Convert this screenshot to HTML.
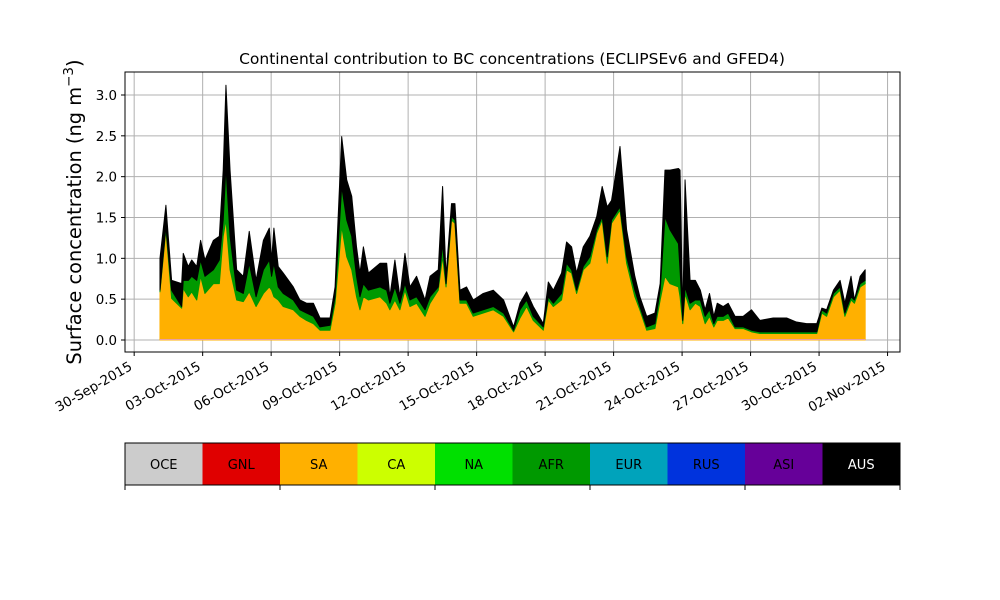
<!DOCTYPE html>
<html><head><meta charset="utf-8"><style>body{margin:0;background:#fff}svg{display:block;font-family:"DejaVu Sans","Liberation Sans",sans-serif}</style></head>
<body>
<svg id="c" width="1000" height="600"></svg>
<script>
const times=[0.13,0.39,0.64,1.08,1.15,1.37,1.52,1.74,1.91,2.1,2.47,2.73,2.9,3.02,3.2,3.49,3.78,4.04,4.34,4.66,4.92,5.02,5.12,5.31,5.53,5.97,6.26,6.55,6.85,7.14,7.58,7.8,8.09,8.31,8.53,8.74,8.89,9.04,9.26,9.77,10.06,10.2,10.42,10.64,10.86,11.08,11.37,11.74,11.96,12.32,12.51,12.66,12.9,13.05,13.27,13.56,13.85,14.29,14.73,15.18,15.62,15.9,16.19,16.48,16.92,17.14,17.36,17.72,17.94,18.16,18.38,18.67,18.96,19.26,19.5,19.72,19.91,20.28,20.57,20.93,21.15,21.45,21.81,22.04,22.25,22.47,22.84,22.91,23.03,23.13,23.35,23.58,23.8,24.01,24.2,24.39,24.54,24.8,25.02,25.32,25.68,26.04,26.41,26.99,27.58,28.01,28.45,28.9,29.12,29.33,29.63,29.92,30.13,30.4,30.55,30.8,31.02];
const saVals=[.59,1.35,.51,.39,.63,.53,.59,.49,.78,.57,.69,.69,1.27,1.47,.86,.49,.47,.59,.41,.57,.65,.61,.53,.49,.41,.37,.29,.24,.20,.12,.12,.45,1.39,1.02,.86,.53,.37,.53,.49,.53,.45,.37,.49,.37,.61,.41,.45,.29,.45,.61,1.02,.65,1.47,1.43,.45,.45,.29,.33,.37,.29,.10,.27,.41,.24,.12,.49,.41,.49,.86,.82,.57,.86,.94,1.31,1.47,.94,1.43,1.59,.94,.53,.37,.12,.14,.49,.78,.69,.65,.53,.20,.57,.37,.45,.41,.20,.29,.16,.24,.24,.27,.14,.14,.10,.08,.08,.08,.08,.08,.08,.33,.29,.53,.61,.29,.49,.45,.65,.69];
const afrVals=[.02,.04,.10,.02,.10,.20,.19,.24,.20,.21,.17,.29,.20,.65,.41,.12,.10,.35,.12,.29,.33,.17,.41,.16,.16,.12,.08,.09,.09,.04,.06,.08,.49,.45,.41,.25,.16,.16,.12,.12,.16,.08,.16,.08,.08,.08,.08,.08,.08,.04,.16,.04,.04,.04,.04,.04,.04,.04,.04,.04,.02,.10,.08,.05,.04,.04,.04,.08,.08,.04,.04,.04,.08,.04,.04,.08,.04,.04,.08,.08,.04,.04,.06,.12,.73,.66,.53,.33,.04,.08,.08,.04,.08,.09,.08,.04,.05,.05,.06,.02,.02,.02,.02,.02,.02,.02,.02,.02,.04,.04,.04,.04,.04,.04,.04,.04,.04];
const ausVals=[.39,.26,.12,.28,.33,.17,.20,.17,.24,.20,.36,.29,.61,1.0,.81,.25,.21,.39,.20,.36,.39,.20,.43,.25,.25,.16,.12,.12,.16,.11,.09,.12,.61,.49,.49,.36,.29,.45,.21,.29,.33,.08,.33,.08,.37,.16,.25,.12,.25,.21,.70,.09,.16,.20,.12,.16,.16,.20,.20,.16,.04,.08,.10,.12,.04,.18,.16,.25,.26,.28,.21,.24,.25,.16,.37,.61,.24,.74,.33,.17,.12,.13,.13,.08,.57,.73,.92,1.22,.05,1.31,.28,.24,.12,.08,.20,.09,.16,.12,.12,.13,.13,.25,.14,.17,.17,.12,.10,.10,.02,.04,.04,.08,.12,.25,.00,.09,.13];
const yTicks=[0,0.5,1,1.5,2,2.5,3];
const xTickLabels=["30-Sep-2015","03-Oct-2015","06-Oct-2015","09-Oct-2015","12-Oct-2015","15-Oct-2015","18-Oct-2015","21-Oct-2015","24-Oct-2015","27-Oct-2015","30-Oct-2015","02-Nov-2015"];
const xTickDays=[-1,2,5,8,11,14,17,20,23,26,29,32];
const regions=["OCE","GNL","SA","CA","NA","AFR","EUR","RUS","ASI","AUS"];
const regionColors=["#cccccc","#e00000","#ffb000","#ccff00","#00e000","#009900","#00a3bb","#0033dd","#660099","#000000"];

const NS="http://www.w3.org/2000/svg",svg=document.getElementById('c');
function el(t,a,p){const e=document.createElementNS(NS,t);for(const k in a)e.setAttribute(k,a[k]);(p||svg).appendChild(e);return e;}
const X0=125,X1=900,Y0=72,Y1=352;
const xs=t=>157+22.83*t, ys=v=>340-81.67*v;
let g;
for(const d of xTickDays){g=el('line',{x1:xs(d),x2:xs(d),y1:Y0,y2:Y1,stroke:'#b0b0b0','stroke-width':1});

}
for(const v of yTicks){g=el('line',{x1:X0,x2:X1,y1:ys(v),y2:ys(v),stroke:'#b0b0b0','stroke-width':1});

}
const n=times.length;
function area(lo,hi,color,name){let d='M'+xs(times[0])+','+ys(hi[0]);for(let i=1;i<n;i++)d+='L'+xs(times[i])+','+ys(hi[i]);for(let i=n-1;i>=0;i--)d+='L'+xs(times[i])+','+ys(lo[i]);d+='Z';
const p=el('path',{d:d,fill:color,stroke:color,'stroke-width':1,'stroke-linejoin':'round'});

}
const z=times.map(()=>0),c1=saVals.slice(),c2=saVals.map((v,i)=>v+afrVals[i]),c3=c2.map((v,i)=>v+ausVals[i]);
area(z,c1,'#ffb000','sa-area');
area(c1,c2,'#009900','afr-area');
area(c2,c3,'#000000','aus-area');
g=el('line',{x1:xs(times[0]),x2:xs(times[n-1]),y1:ys(0)-0.5,y2:ys(0)-0.5,stroke:'#e8a0a0','stroke-width':1});


g=el('rect',{x:X0,y:Y0,width:X1-X0,height:Y1-Y0,fill:'none',stroke:'#000','stroke-width':1});


for(const v of yTicks){el('line',{x1:X0-4,x2:X0,y1:ys(v),y2:ys(v),stroke:'#000'});
g=el('text',{x:X0-8,y:ys(v)+5,'text-anchor':'end','font-size':13.4});g.textContent=v.toFixed(1);

}
xTickDays.forEach((d,i)=>{el('line',{x1:xs(d),x2:xs(d),y1:Y1,y2:Y1+4,stroke:'#000'});
const tx=xs(d)-1,ty=Y1+17;
g=el('text',{x:tx,y:ty,'text-anchor':'end','font-size':13.4,transform:`rotate(-30 ${tx} ${ty})`});g.textContent=xTickLabels[i];

});
g=el('text',{x:512,y:64,'text-anchor':'middle','font-size':15.5});g.textContent='Continental contribution to BC concentrations (ECLIPSEv6 and GFED4)';


g=el('text',{x:81,y:212,'text-anchor':'middle','font-size':19.4,transform:'rotate(-90 81 212)'});g.innerHTML='Surface concentration (ng m<tspan dy="-8" font-size="13.5">−3</tspan><tspan dy="8">)</tspan>';


const cw=(X1-X0)/regions.length;
regions.forEach((r,i)=>{g=el('rect',{x:X0+i*cw,y:443,width:cw,height:42,fill:regionColors[i]});


g=el('text',{x:X0+i*cw+cw/2,y:469,'text-anchor':'middle','font-size':13,fill:r==='AUS'?'#fff':'#000'});g.textContent=r;

});
g=el('rect',{x:X0,y:443,width:X1-X0,height:42,fill:'none',stroke:'#000'});


for(let i=0;i<=5;i++)el('line',{x1:X0+i*155,x2:X0+i*155,y1:485,y2:490,stroke:'#000'});
</script>
</body></html>
